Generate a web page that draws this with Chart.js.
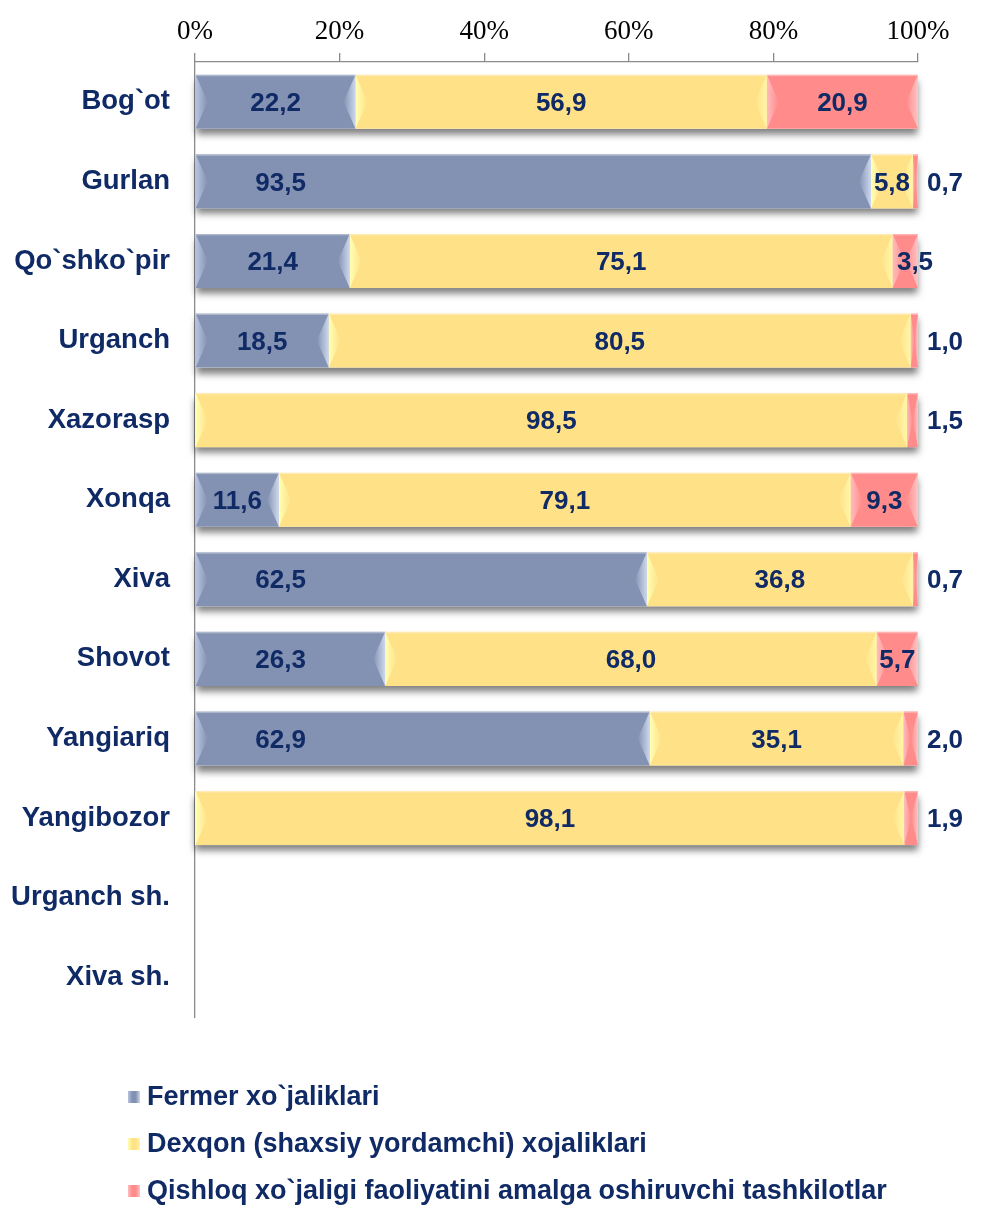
<!DOCTYPE html>
<html>
<head>
<meta charset="utf-8">
<script src="https://cdn.jsdelivr.net/npm/chart.js@4/dist/chart.umd.min.js"></script>
<style>
  body { margin: 0; background: #fff; }
  #wrap { position: relative; width: 982px; height: 1216px; }
  #legend { position: absolute; left: 128px; top: 1073px; font: bold 27px "Liberation Sans", Arial, sans-serif; color: #102a66; }
  .item { height: 47px; display: flex; align-items: center; }
  .box { width: 12px; height: 12px; margin-right: 7px; }
</style>
</head>
<body>
<div id="wrap">
  <canvas id="chart"></canvas>
  <div id="legend"></div>
</div>
<script>
const districts = ['Bog`ot', 'Gurlan', 'Qo`shko`pir', 'Urganch', 'Xazorasp', 'Xonqa', 'Xiva', 'Shovot', 'Yangiariq', 'Yangibozor', 'Urganch sh.', 'Xiva sh.'];
const fermer = [22.2, 93.5, 21.4, 18.5, 0, 11.6, 62.5, 26.3, 62.9, 0, null, null];
const dexqon = [56.9, 5.8, 75.1, 80.5, 98.5, 79.1, 36.8, 68.0, 35.1, 98.1, null, null];
const tashkilot = [20.9, 0.7, 3.5, 1.0, 1.5, 9.3, 0.7, 5.7, 2.0, 1.9, null, null];
const seriesNames = ['Fermer xo`jaliklari', 'Dexqon (shaxsiy yordamchi) xojaliklari', 'Qishloq xo`jaligi faoliyatini amalga oshiruvchi tashkilotlar'];
const xTicks = [0, 20, 40, 60, 80, 100];

const colors = ['#8392b2', '#ffe188', '#ff8b8b'];
const lightLeft = ['#b7c5e2', '#ffffb4', '#ffbcbc'];
const lightRight = ['#cdd8ee', '#fff7a8', '#ffc4c4'];
const navy = '#102a66';

// grey drop shadow under every stacked bar
const shadowPlugin = {
  id: 'shadow',
  beforeDatasetsDraw(chart) {
    const ctx = chart.ctx;
    const metas = chart.data.datasets.map((d, i) => chart.getDatasetMeta(i));
    ctx.save();
    ctx.shadowColor = 'rgba(0,0,0,0.5)';
    ctx.shadowBlur = 7;
    ctx.shadowOffsetY = 6;
    ctx.fillStyle = '#fff';
    districts.forEach((c, i) => {
      let x0 = Infinity, x1 = -Infinity, y = 0, h = 0;
      metas.forEach(m => {
        const el = m.data[i];
        if (!el || chart.data.datasets[m.index].data[i] == null) return;
        x0 = Math.min(x0, el.base, el.x);
        x1 = Math.max(x1, el.base, el.x);
        y = el.y; h = el.height;
      });
      if (x1 > x0) ctx.fillRect(x0, y - h / 2, x1 - x0, h);
    });
    ctx.restore();
  }
};

// bevelled ends on each segment
const bevelPlugin = {
  id: 'bevel',
  afterDatasetsDraw(chart) {
    const ctx = chart.ctx;
    chart.data.datasets.forEach((ds, di) => {
      chart.getDatasetMeta(di).data.forEach((el, i) => {
        if (!ds.data[i]) return;
        const l = Math.min(el.base, el.x), r = Math.max(el.base, el.x);
        const top = el.y - el.height / 2, bot = el.y + el.height / 2;
        const b = Math.min(12, (r - l) / 2);
        let g = ctx.createLinearGradient(l, 0, l + b, 0);
        g.addColorStop(0, lightLeft[di]);
        g.addColorStop(1, colors[di]);
        ctx.fillStyle = g;
        ctx.beginPath();
        ctx.moveTo(l, top); ctx.lineTo(l + b, el.y); ctx.lineTo(l, bot); ctx.closePath();
        ctx.fill();
        g = ctx.createLinearGradient(r, 0, r - b, 0);
        g.addColorStop(0, lightRight[di]);
        g.addColorStop(1, colors[di]);
        ctx.fillStyle = g;
        ctx.beginPath();
        ctx.moveTo(r, top); ctx.lineTo(r - b, el.y); ctx.lineTo(r, bot); ctx.closePath();
        ctx.fill();
        ctx.fillStyle = 'rgba(255,255,255,0.35)';
        ctx.fillRect(l, top, r - l, 1.5);
      });
    });
  }
};

// value labels with comma decimals
const labelPlugin = {
  id: 'valueLabels',
  afterDatasetsDraw(chart) {
    const ctx = chart.ctx;
    ctx.save();
    ctx.font = 'bold 26px "Liberation Sans", Arial, sans-serif';
    ctx.fillStyle = navy;
    ctx.textAlign = 'center';
    ctx.textBaseline = 'middle';
    chart.data.datasets.forEach((ds, di) => {
      chart.getDatasetMeta(di).data.forEach((el, i) => {
        const v = ds.data[i];
        if (!v) return;
        const l = Math.min(el.base, el.x), r = Math.max(el.base, el.x);
        let x = (l + r) / 2;
        if (di === 0) x = Math.min(x, l + 85);
        if (di === 2 && v < 3) x = r + 27;
        if (di === 2 && v >= 3 && v < 5) x = r - 3;
        ctx.fillText(v.toFixed(1).replace('.', ','), x, el.y + 2);
      });
    });
    ctx.restore();
  }
};

const datasets = [fermer, dexqon, tashkilot].map((d, i) => ({
  label: seriesNames[i],
  data: d,
  backgroundColor: colors[i],
  borderWidth: 0,
  barPercentage: 0.68,
  categoryPercentage: 1
}));

new Chart(document.getElementById('chart'), {
  type: 'bar',
  data: { labels: districts, datasets: datasets },
  plugins: [shadowPlugin, bevelPlugin, labelPlugin],
  options: {
    indexAxis: 'y',
    responsive: true,
    maintainAspectRatio: false,
    animation: false,
    layout: { padding: { top: 0, left: 0, right: 64, bottom: 199 } },
    plugins: { legend: { display: false }, tooltip: { enabled: false } },
    scales: {
      x: {
        position: 'top',
        stacked: true,
        min: 0,
        max: 100,
        afterBuildTicks: s => { s.ticks = xTicks.map(v => ({ value: v })); },
        afterFit: s => { s.height = 62; },
        ticks: {
          callback: v => v + '%',
          color: '#000',
          padding: 5,
          maxRotation: 0,
          font: { family: '"Liberation Serif", "Times New Roman", serif', size: 27 }
        },
        grid: { drawOnChartArea: false, color: '#8a8a8a', lineWidth: 1.3, tickLength: 9 },
        border: { color: '#8a8a8a', width: 1.3 }
      },
      y: {
        stacked: true,
        afterFit: s => { s.width = 195; },
        ticks: {
          color: navy,
          padding: 25,
          font: { family: '"Liberation Sans", Arial, sans-serif', size: 27.5, weight: 'bold', lineHeight: 1.05 }
        },
        grid: { display: false, drawTicks: false },
        border: { color: '#8a8a8a', width: 1.3 }
      }
    }
  }
});

// legend as a vertical list under the chart
const legend = document.getElementById('legend');
seriesNames.forEach((name, i) => {
  const item = document.createElement('div');
  item.className = 'item';
  item.innerHTML = `<div class="box" style="background: linear-gradient(90deg, ${lightLeft[i]}, ${colors[i]} 35%, ${colors[i]} 65%, ${lightRight[i]})"></div><span>${name}</span>`;
  legend.appendChild(item);
});
</script>
</body>
</html>
